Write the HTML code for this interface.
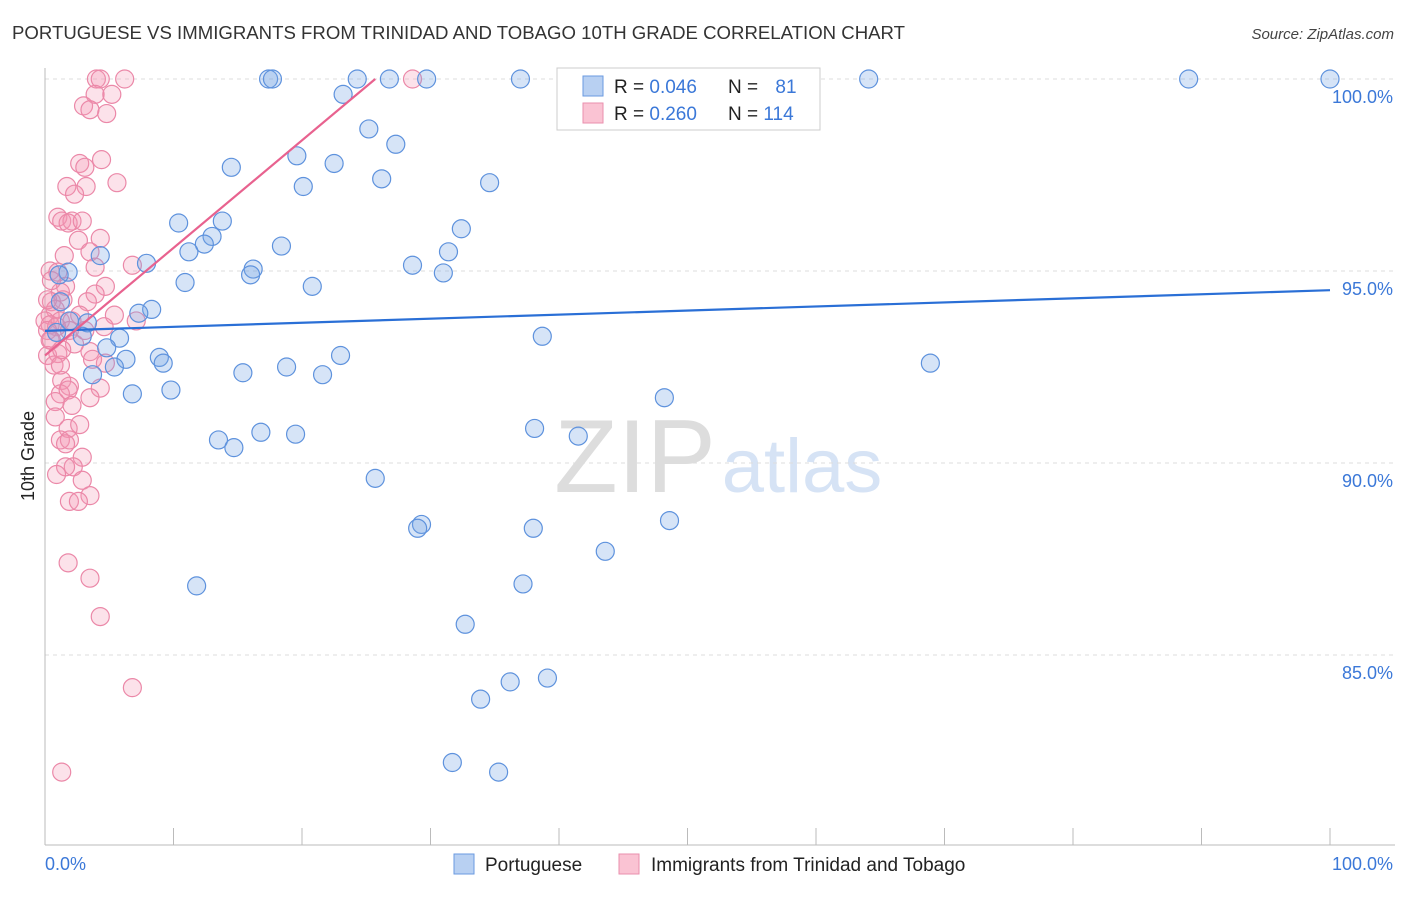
<!DOCTYPE html>
<html><head><meta charset="utf-8"><style>
body{margin:0;background:#fff;font-family:"Liberation Sans",sans-serif;}
svg text{font-family:"Liberation Sans",sans-serif;}
</style></head><body>
<svg id="chart" width="1406" height="892" viewBox="0 0 1406 892" xmlns="http://www.w3.org/2000/svg">
<text x="12" y="39" font-size="18" fill="#333" textLength="893" lengthAdjust="spacingAndGlyphs">PORTUGUESE VS IMMIGRANTS FROM TRINIDAD AND TOBAGO 10TH GRADE CORRELATION CHART</text>
<text x="1394" y="39" font-size="15" fill="#444" text-anchor="end" font-style="italic">Source: ZipAtlas.com</text>
<text transform="translate(34,456) rotate(-90)" font-size="18" fill="#222" text-anchor="middle">10th Grade</text>
<g>
<text x="635" y="492" font-size="104" fill="#ddd" text-anchor="middle" font-family="Liberation Serif,serif">ZIP</text>
<text x="802" y="492" font-size="76" fill="#d6e3f5" text-anchor="middle">atlas</text>
</g>
<g id="grid"></g>
<g id="axes"></g>
<g id="pinkpts"></g>
<g id="bluepts"></g>
<g id="lines"></g>
<g>
<rect x="557" y="68" width="263" height="62" fill="#fff" stroke="#ccc"/>
<rect x="583" y="76" width="20" height="20" fill="#b8d0f2" stroke="#6a9ae0"/>
<rect x="583" y="103" width="20" height="20" fill="#fac3d3" stroke="#ea8fae"/>
<text x="614" y="93" font-size="19" fill="#222">R = <tspan fill="#3b78d8">0.046</tspan></text>
<text x="728" y="93" font-size="19" fill="#222">N = <tspan fill="#3b78d8" dx="12">81</tspan></text>
<text x="614" y="120" font-size="19" fill="#222">R = <tspan fill="#3b78d8">0.260</tspan></text>
<text x="728" y="120" font-size="19" fill="#222">N = <tspan fill="#3b78d8">114</tspan></text>
</g>
<g>
<rect x="454" y="854" width="20" height="20" fill="#b8d0f2" stroke="#6a9ae0"/>
<text x="485" y="871" font-size="19" fill="#222">Portuguese</text>
<rect x="619" y="854" width="20" height="20" fill="#fac3d3" stroke="#ea8fae"/>
<text x="651" y="871" font-size="19" fill="#222">Immigrants from Trinidad and Tobago</text>
</g>
</svg>
<script>
const yTicks=[100,95,90,85];
const yTickLabels=["100.0%","95.0%","90.0%","85.0%"];
const xTickLabels=["0.0%","100.0%"];
const blueX=[17.4,17.7,24.3,26.8,29.7,37.0,45.5,51.0,64.1,89.0,100,23.2,25.2,27.3,19.6,22.5,14.5,20.1,26.2,34.6,10.4,13.8,13.0,32.4,12.4,18.4,31.4,11.2,4.3,7.9,16.2,28.6,16.0,31.0,1.8,10.9,20.8,8.3,7.3,3.3,0.9,2.9,5.8,38.7,4.8,23.0,6.3,8.9,9.2,5.4,68.9,15.4,18.8,21.6,3.7,6.8,9.8,48.2,38.1,41.5,16.8,19.5,13.5,14.7,25.7,29.3,29.0,38.0,48.6,43.6,37.2,11.8,32.7,36.2,39.1,33.9,31.7,35.3,1.1,1.2,1.9];
const blueY=[100,100,100,100,100,100,100,100,100,100,100,99.6,98.7,98.3,98.0,97.8,97.7,97.2,97.4,97.3,96.25,96.3,95.9,96.1,95.7,95.65,95.5,95.5,95.4,95.2,95.05,95.15,94.9,94.95,94.97,94.7,94.6,94.0,93.9,93.65,93.4,93.3,93.25,93.3,93.0,92.8,92.7,92.75,92.6,92.5,92.6,92.35,92.5,92.3,92.3,91.8,91.9,91.7,90.9,90.7,90.8,90.75,90.6,90.4,89.6,88.4,88.3,88.3,88.5,87.7,86.85,86.8,85.8,84.3,84.4,83.85,82.2,81.95,94.9,94.2,93.7];
const pinkX=[4.0,4.3,6.2,28.6,3.9,5.2,3.0,3.5,4.8,4.4,2.7,3.1,5.6,1.7,3.2,2.3,1.0,1.3,2.1,1.8,2.9,2.6,4.3,1.5,3.5,3.9,6.8,0.4,1.0,4.7,1.6,1.2,3.9,3.3,1.4,0.5,0.8,2.7,0.4,1.2,2.1,0,0.4,0.9,7.1,5.4,4.6,0.2,1.9,0.5,1.0,3.5,4.7,0.2,0.7,1.3,1.9,1.2,1.8,4.3,3.5,0.8,2.1,0.8,1.8,2.7,1.2,1.9,1.6,2.9,2.2,1.6,0.9,2.9,1.9,3.5,2.6,1.8,3.5,4.3,6.8,1.3,0.4,0.2,0.5,1.2,2.3,1.3,3.1,3.7];
const pinkY=[100,100,100,100,99.6,99.6,99.3,99.2,99.1,97.9,97.8,97.7,97.3,97.2,97.2,97.0,96.4,96.3,96.3,96.25,96.3,95.8,95.85,95.4,95.5,95.1,95.15,95.0,94.97,94.6,94.6,94.45,94.4,94.2,94.25,94.2,94.0,93.85,93.85,93.7,93.7,93.7,93.6,93.55,93.7,93.85,93.55,93.45,93.45,93.2,92.85,92.9,92.6,92.8,92.55,92.15,92.0,91.8,91.9,91.95,91.7,91.6,91.5,91.2,90.9,91.0,90.6,90.6,90.5,90.15,89.9,89.9,89.7,89.55,89.0,89.15,89.0,87.4,87.0,86.0,84.15,81.95,93.2,94.25,94.75,92.55,93.1,92.95,93.45,92.7];
const blueTrend=[93.44,94.5];   // y at x=0 and x=100
const pinkTrend=[92.8,100,25.7]; // y at x=0, y at end, end x
const NS="http://www.w3.org/2000/svg";
const X0=45,X1=1330,Y100=79,PXPER=38.4;
const sx=v=>X0+(X1-X0)*v/100;
const sy=v=>Y100+(100-v)*PXPER;
function mk(tag,attrs,parent){const e=document.createElementNS(NS,tag);for(const k in attrs)e.setAttribute(k,attrs[k]);parent.appendChild(e);return e;}
const grid=document.getElementById('grid'),axes=document.getElementById('axes');
yTicks.forEach((t,i)=>{
  const l=mk('line',{x1:45,x2:1395,y1:sy(t),y2:sy(t),stroke:'#ddd','stroke-dasharray':'4,4'},grid);
  
  
  const tx=mk('text',{x:1393,y:sy(t)+24,'font-size':18,fill:'#3b78d8','text-anchor':'end'},axes);
  tx.textContent=yTickLabels[i];
  
  
});
const ax=mk('line',{x1:45,x2:45,y1:68,y2:845,stroke:'#bbb'},axes);


const bx=mk('line',{x1:45,x2:1395,y1:845,y2:845,stroke:'#bbb'},axes);


for(let i=0;i<=10;i++){
  const t=mk('line',{x1:sx(i*10),x2:sx(i*10),y1:828,y2:845,stroke:'#bbb'},axes);
  
  
}
[[0,'start',45],[100,'end',1393]].forEach((d,i)=>{
  const tx=mk('text',{x:d[2],y:870,'font-size':18,fill:'#3b78d8','text-anchor':d[1]},axes);
  tx.textContent=xTickLabels[i];
  
  
});
const pg=document.getElementById('pinkpts');
pinkX.forEach((x,i)=>{
  const c=mk('circle',{cx:sx(x),cy:sy(pinkY[i]),r:9,fill:'rgba(245,150,180,0.28)',stroke:'#eb88a8','stroke-width':1.2},pg);
  
  
});
const bg=document.getElementById('bluepts');
blueX.forEach((x,i)=>{
  const c=mk('circle',{cx:sx(x),cy:sy(blueY[i]),r:9,fill:'rgba(120,165,230,0.3)',stroke:'#5e92dd','stroke-width':1.2},bg);
  
  
});
const lg=document.getElementById('lines');
const bl=mk('line',{x1:sx(0),y1:sy(blueTrend[0]),x2:sx(100),y2:sy(blueTrend[1]),stroke:'#2a6fd6','stroke-width':2.2},lg);


const pl=mk('line',{x1:sx(0),y1:sy(pinkTrend[0]),x2:sx(pinkTrend[2]),y2:sy(pinkTrend[1]),stroke:'#e8628f','stroke-width':2.2},lg);


</script>
</body></html>
